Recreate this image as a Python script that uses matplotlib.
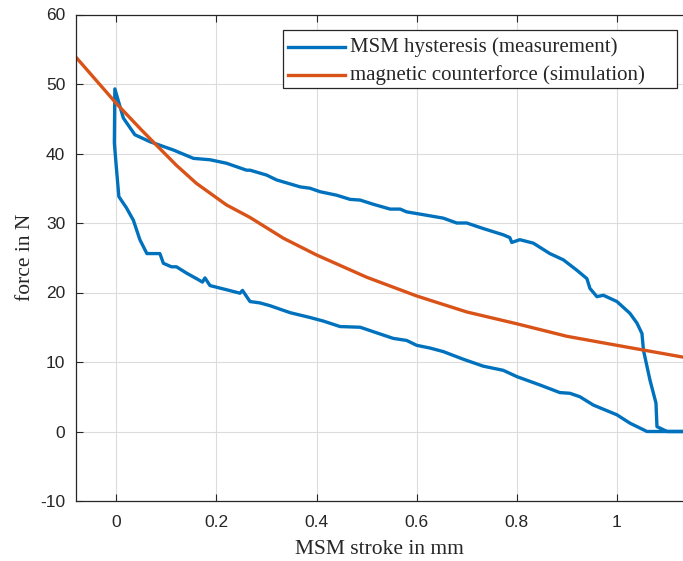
import matplotlib
matplotlib.use('Agg')
import matplotlib.pyplot as plt
from matplotlib.patches import Rectangle
from matplotlib.lines import Line2D

plt.rcParams['axes.unicode_minus'] = False

# MSM hysteresis loop (measurement): lower branch then upper branch
lower_x = [1.20, 1.06, 1.026, 1.0, 0.953, 0.926, 0.906, 0.886, 0.846, 0.80, 0.773,
           0.733, 0.693, 0.653, 0.627, 0.60, 0.58, 0.553, 0.52, 0.487, 0.447,
           0.413, 0.387, 0.347, 0.307, 0.287, 0.267, 0.252, 0.247, 0.22, 0.187,
           0.177, 0.172, 0.16, 0.14, 0.12, 0.11, 0.094, 0.087, 0.061, 0.047,
           0.034, 0.02, 0.005, 0.0, -0.004, -0.003]
lower_y = [0.0, 0.0, 1.2, 2.4, 3.8, 5.0, 5.5, 5.6, 6.7, 7.9, 8.8,
           9.4, 10.4, 11.5, 12.0, 12.4, 13.1, 13.4, 14.2, 15.0, 15.1,
           15.9, 16.4, 17.1, 18.1, 18.5, 18.7, 20.3, 19.9, 20.4, 21.0,
           22.1, 21.5, 22.0, 22.8, 23.7, 23.7, 24.2, 25.6, 25.6, 27.6,
           30.4, 32.2, 33.8, 38.0, 41.5, 49.3]
upper_x = [0.014, 0.037, 0.067, 0.114, 0.154, 0.187, 0.22, 0.26, 0.267, 0.30,
           0.32, 0.367, 0.387, 0.407, 0.44, 0.467, 0.487, 0.513, 0.547, 0.567,
           0.58, 0.613, 0.653, 0.68, 0.70, 0.733, 0.773, 0.786, 0.79, 0.806,
           0.833, 0.866, 0.893, 0.92, 0.94, 0.946, 0.96, 0.973, 1.0, 1.026,
           1.04, 1.05, 1.053, 1.066, 1.078, 1.08, 1.10, 1.20]
upper_y = [45.1, 42.7, 41.7, 40.5, 39.3, 39.1, 38.6, 37.6, 37.6, 36.9,
           36.2, 35.2, 35.0, 34.5, 34.0, 33.4, 33.3, 32.7, 32.0, 32.0,
           31.6, 31.2, 30.7, 30.0, 30.0, 29.2, 28.3, 27.9, 27.2, 27.6,
           27.1, 25.6, 24.7, 23.2, 22.0, 20.6, 19.4, 19.6, 18.7, 17.0,
           15.6, 14.1, 11.7, 7.4, 4.1, 0.7, 0.0, 0.0]
meas_x = lower_x + upper_x
meas_y = lower_y + upper_y

# magnetic counterforce (simulation)
sim_x = [-0.08, -0.04, 0.0, 0.05, 0.087, 0.12, 0.16, 0.22, 0.267, 0.334, 0.4,
         0.5, 0.6, 0.7, 0.8, 0.9, 1.0, 1.14]
sim_y = [53.8, 50.5, 47.2, 43.4, 40.7, 38.3, 35.7, 32.6, 30.8, 27.8, 25.4,
         22.2, 19.5, 17.2, 15.5, 13.7, 12.4, 10.6]

x_ticks = [0, 0.2, 0.4, 0.6, 0.8, 1.0]
x_labels = ['0', '0.2', '0.4', '0.6', '0.8', '1']
y_ticks = [-10, 0, 10, 20, 30, 40, 50, 60]
legend_labels = ['MSM hysteresis (measurement)', 'magnetic counterforce (simulation)']

sans = 'Liberation Sans'
serif = 'Liberation Serif'
dark = '#262626'
blue = '#0072BD'
orange = '#D95319'

W, H = 683, 561
fig = plt.figure(figsize=(W / 100, H / 100), dpi=100)
ax = fig.add_axes([76.3 / W, 1 - 501 / H, 1 - 76.3 / W, (501 - 14.5) / H])

ax.plot(meas_x, meas_y, color=blue, lw=2.4, solid_joinstyle='round')
ax.plot(sim_x, sim_y, color=orange, lw=2.4)

ax.set_xlim(-0.08, 1.132)
ax.set_ylim(-10, 60)
ax.set_xticks(x_ticks)
ax.set_xticklabels(x_labels)
ax.set_yticks(y_ticks)
ax.grid(True, color='#dcdcdc', lw=0.8)
ax.set_axisbelow(True)
ax.tick_params(direction='in', top=True, right=False, length=5, width=0.8,
               colors=dark, labelsize=12.5)
ax.tick_params(axis='x', pad=10)
ax.tick_params(axis='y', pad=8)
for lab in ax.get_xticklabels() + ax.get_yticklabels():
    lab.set_fontfamily(sans)
for side in ['left', 'top', 'bottom']:
    ax.spines[side].set_color(dark)
    ax.spines[side].set_linewidth(0.9)
ax.spines['right'].set_visible(False)

ax.set_xlabel('MSM stroke in mm', fontfamily=serif, fontsize=15.5, color=dark, labelpad=7)
ax.set_ylabel('force in N', fontfamily=serif, fontsize=15.5, color=dark, labelpad=4)

# legend box drawn in pixel positions (MATLAB-style wide right padding)
fig.patches.append(Rectangle((283 / W, 1 - 88 / H), (677 - 283) / W, (88 - 30) / H,
                             transform=fig.transFigure, facecolor='white',
                             edgecolor=dark, lw=0.9, zorder=5))
for row, (lab, col) in enumerate(zip(legend_labels, [blue, orange])):
    yy = 1 - (47 + 28 * row) / H
    fig.add_artist(Line2D([288 / W, 345 / W], [yy, yy], transform=fig.transFigure,
                          color=col, lw=2.4, zorder=6))
    fig.text(350 / W, yy, lab, fontfamily=serif, fontsize=15, color=dark,
             va='center', ha='left', zorder=6)

fig.savefig('out.png', dpi=100, facecolor='white')
